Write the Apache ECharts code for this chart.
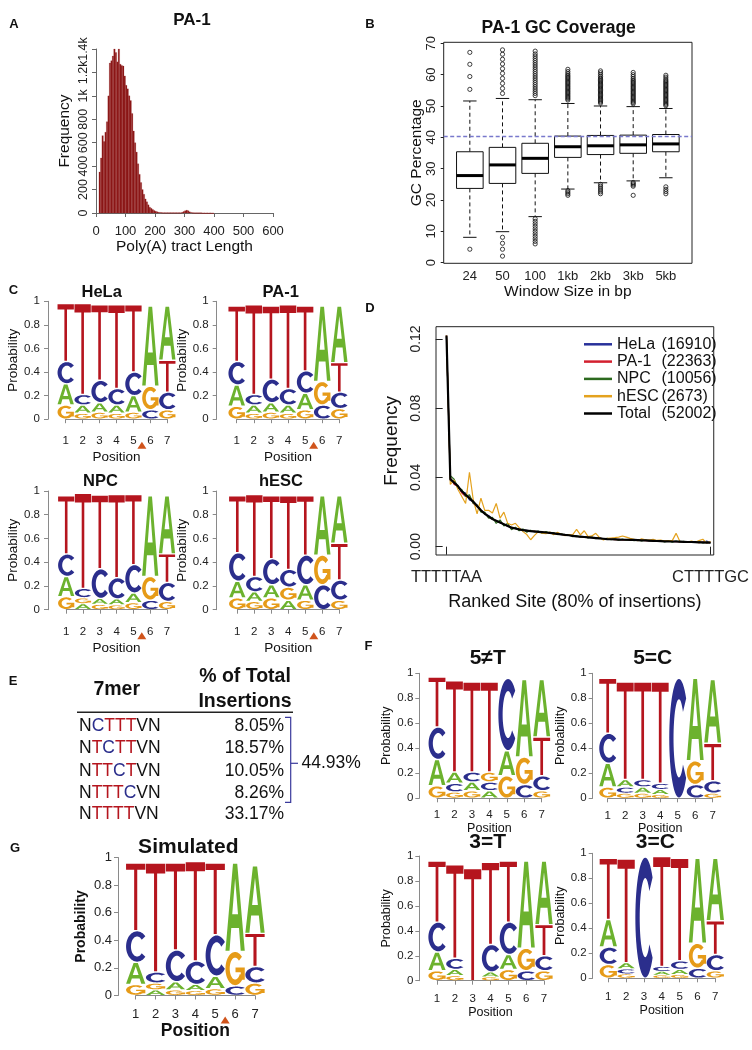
<!DOCTYPE html>
<html><head><meta charset="utf-8">
<script src="https://cdn.jsdelivr.net/npm/echarts@6.0.0/dist/echarts.min.js"></script>
<style>html,body{margin:0;padding:0;background:#fff}#c{width:752px;height:1050px}</style>
</head><body><div id="c"></div>
<script>
// ================= DATA =================
// A: histogram of poly(A) tract length (bins of 5 starting at 10)
const histBinStart = 10, histBinWidth = 5;
const histCounts = [350,470,660,610,690,780,1000,1280,1300,1340,1400,1370,1290,1400,1270,1260,1255,1170,1090,1060,
  1000,960,850,700,600,520,420,330,260,200,160,120,95,70,50,40,30,22,15,10,
  6,5,4,3,3,3,3,3,3,3,3,3,3,3,3,3,6,12,20,24,
  20,10,5,3,2,2,2,2,2,2,1,1,1,1,1,1,1,1];
// B: GC coverage boxplots
const gcWindows = ['24','50','100','1kb','2kb','3kb','5kb'];
const gcLow  = [8.1, 9.9, 14.7, 23.5, 25.5, 26.1, 27.1];
const gcQ1   = [23.7, 25.3, 28.5, 33.6, 34.5, 34.9, 35.4];
const gcMed  = [27.8, 31.2, 33.3, 37.0, 37.3, 37.6, 37.9];
const gcQ3   = [35.4, 36.8, 38.1, 40.4, 40.6, 40.7, 40.9];
const gcHigh = [51.6, 52.4, 52.0, 50.8, 50.0, 49.8, 49.2];
const gcOut24  = [4.3, 55.3, 59.4, 63.3, 67.1];
const gcOut50  = [2.1, 4.3, 6.2, 8.1, 54.0, 55.6, 57.2, 58.8, 60.4, 61.9, 63.4, 64.9, 66.5, 67.9];
const gcOut100 = [6.0, 6.8, 7.6, 8.4, 9.2, 10.0, 10.8, 11.6, 12.4, 13.2, 14.0, 53.3, 54.0, 54.7, 55.4, 56.1, 56.8, 57.5, 58.2, 58.9, 59.6, 60.3, 61.0, 61.7, 62.4, 63.1, 63.8, 64.5, 65.2, 65.9, 66.6, 67.5];
const gcOut1kb = [21.5, 22.0, 22.5, 23.0, 51.9, 52.3, 52.7, 53.1, 53.5, 53.9, 54.3, 54.7, 55.1, 55.5, 55.9, 56.3, 56.7, 57.1, 57.5, 57.9, 58.3, 58.7, 59.1, 59.5, 59.9, 60.4, 61.0, 61.7];
const gcOut2kb = [22.0, 22.6, 23.2, 23.8, 24.4, 25.0, 50.9, 51.3, 51.7, 52.1, 52.5, 52.9, 53.3, 53.7, 54.1, 54.5, 54.9, 55.3, 55.7, 56.1, 56.5, 56.9, 57.3, 57.7, 58.1, 58.5, 58.9, 59.4, 60.0, 60.6, 61.2];
const gcOut3kb = [21.5, 24.4, 24.8, 25.2, 25.6, 50.7, 51.1, 51.5, 51.9, 52.3, 52.7, 53.1, 53.5, 53.9, 54.3, 54.7, 55.1, 55.5, 55.9, 56.3, 56.7, 57.1, 57.5, 57.9, 58.3, 58.8, 59.4, 60.0, 60.7];
const gcOut5kb = [22.0, 22.7, 23.4, 24.2, 50.1, 50.5, 50.9, 51.3, 51.7, 52.1, 52.5, 52.9, 53.3, 53.7, 54.1, 54.5, 54.9, 55.3, 55.7, 56.1, 56.5, 56.9, 57.3, 57.7, 58.1, 58.6, 59.2, 59.8];
const gcGenome = 40.5;
// D: ranked site frequencies
const dNames  = ['HeLa', 'PA-1', 'NPC', 'hESC', 'Total'];
const dCounts = [16910, 22363, 10056, 2673, 52002];
const dFirstSite = 'TTTTTAA', dLastSite = 'CTTTTGC';
const freqHeLa = [0.121,0.038,0.038,0.034,0.032,0.031,0.027,0.026,0.024,0.021,0.019,0.018,0.016,0.0148,0.0138,0.013,0.0118,0.0112,0.0104,0.0098,0.0097,0.0094,0.0089,0.0087,0.0088,0.0083,0.0081,0.0082,0.0076,0.0075,0.007,0.0069,0.0065,0.0064,0.0059,0.0059,0.0055,0.0055,0.0051,0.005,0.0049,0.0045,0.0045,0.0042,0.0043,0.004,0.0041,0.0039,0.004,0.0038,0.0039,0.0036,0.0037,0.0034,0.0035,0.0032,0.0033,0.003,0.0032,0.0029,0.0031,0.0028,0.0029,0.0026,0.0028,0.0025,0.0026,0.0024,0.0032,0.0023];
const freqPA1 = [0.122,0.040,0.036,0.035,0.031,0.029,0.029,0.025,0.023,0.021,0.0195,0.017,0.0162,0.0148,0.0142,0.0128,0.0122,0.0108,0.0106,0.0101,0.0095,0.0092,0.0091,0.0089,0.0085,0.0085,0.0081,0.0079,0.0078,0.0073,0.0072,0.0067,0.0067,0.0062,0.0061,0.0057,0.0057,0.0053,0.0053,0.0049,0.0049,0.0046,0.0043,0.0044,0.0041,0.0042,0.0039,0.0041,0.0038,0.004,0.0037,0.0038,0.0035,0.0036,0.0033,0.0034,0.0031,0.0033,0.003,0.0031,0.0029,0.003,0.0027,0.0028,0.0026,0.0027,0.0024,0.0026,0.0023,0.0025];
const freqNPC = [0.121,0.041,0.039,0.034,0.033,0.029,0.030,0.025,0.024,0.020,0.020,0.0165,0.017,0.0135,0.0155,0.012,0.0135,0.0098,0.0112,0.0092,0.0102,0.0083,0.0095,0.0085,0.009,0.0078,0.0088,0.0077,0.0081,0.007,0.0075,0.0066,0.007,0.0058,0.0064,0.0055,0.0059,0.0051,0.0056,0.0047,0.0052,0.0043,0.0048,0.0041,0.0045,0.0038,0.0044,0.0037,0.0042,0.0035,0.0041,0.0034,0.0039,0.0033,0.0037,0.0031,0.0036,0.0028,0.0034,0.0026,0.0033,0.0027,0.0031,0.0025,0.003,0.0024,0.0029,0.0021,0.0027,0.0022];
const freqHESC = [0.122,0.036,0.0385,0.033,0.029,0.025,0.043,0.027,0.019,0.028,0.021,0.021,0.0195,0.025,0.0165,0.020,0.0135,0.0125,0.0135,0.011,0.0087,0.007,0.004,0.0065,0.0087,0.0078,0.0075,0.0085,0.0069,0.0083,0.0072,0.0064,0.0068,0.007,0.010,0.0068,0.0092,0.0058,0.0062,0.0077,0.0052,0.0039,0.0048,0.005,0.0052,0.0055,0.0062,0.0055,0.0048,0.0042,0.0035,0.0045,0.004,0.0038,0.0042,0.0036,0.0038,0.0033,0.0035,0.0035,0.0077,0.003,0.0028,0.0027,0.0032,0.0026,0.0035,0.0043,0.0021,0.003];
const freqTotal = [0.122,0.039,0.037,0.035,0.032,0.030,0.028,0.026,0.0235,0.021,0.019,0.0175,0.016,0.015,0.014,0.013,0.012,0.011,0.0105,0.010,0.0096,0.0093,0.009,0.0088,0.0086,0.0084,0.0082,0.008,0.0077,0.0074,0.0071,0.0068,0.0066,0.0063,0.006,0.0058,0.0056,0.0054,0.0052,0.005,0.0048,0.0046,0.0044,0.0043,0.0042,0.0041,0.004,0.004,0.0039,0.0039,0.0038,0.0037,0.0036,0.0035,0.0034,0.0033,0.0032,0.0031,0.0031,0.003,0.003,0.0029,0.0028,0.0027,0.0027,0.0026,0.0025,0.0025,0.0024,0.0024];
// E: 7mer table
const kmers   = ['NCTTTVN', 'NTCTTVN', 'NTTCTVN', 'NTTTCVN', 'NTTTTVN'];
const kmerPct = [8.05, 18.57, 10.05, 8.26, 33.17];
// Sequence logos: probability of A, C, G, T at positions 1..7
const logoHeLa = {A:[.18,.07,.08,.07,.14,.68,.46], C:[.19,.09,.19,.14,.20,.08,.15], G:[.12,.05,.06,.05,.06,.20,.08], T:[.49,.77,.64,.71,.57,0,.27]};
const logoPA1  = {A:[.18,.07,.08,.07,.14,.64,.48], C:[.20,.09,.20,.14,.19,.12,.14], G:[.11,.05,.06,.05,.08,.20,.09], T:[.47,.76,.62,.71,.55,0,.25]};
const logoNPC  = {A:[.17,.05,.05,.05,.08,.68,.49], C:[.19,.08,.25,.18,.24,.08,.16], G:[.11,.05,.045,.04,.06,.20,.07], T:[.49,.80,.62,.70,.59,0,.24]};
const logoHESC = {A:[.14,.08,.11,.08,.13,.50,.40], C:[.24,.13,.22,.15,.25,.21,.17], G:[.10,.07,.10,.11,.08,.25,.08], T:[.48,.69,.53,.62,.50,0,.31]};
const logo5notT = {A:[.21,.09,.07,.06,.20,.62,.46], C:[.26,.07,.08,.07,.58,.11,.12], G:[.10,.05,.06,.08,.18,.22,.06], T:[.40,.73,.72,.72,0,0,.31]};
const logo5isC  = {A:[.19,.06,.05,.04,0,.66,.51], C:[.24,.05,.06,.05,.96,.11,.10], G:[.09,.04,.04,.03,0,.19,.04], T:[.44,.78,.78,.81,0,0,.30]};
const logo3isT  = {A:[.15,.05,0,.04,.12,.70,.51], C:[.24,.09,0,.22,.26,.08,.12], G:[.08,.04,0,.03,.09,.18,.08], T:[.49,.75,.90,.66,.49,0,.25]};
const logo3isC  = {A:[.22,.05,0,.03,.04,.68,.50], C:[.14,.04,.97,.04,.07,.08,.13], G:[.11,.035,0,.025,.03,.20,.06], T:[.49,.83,0,.88,.82,0,.27]};
const logoSim   = {A:[.16,.04,.06,.045,.09,.64,.49], C:[.23,.08,.23,.17,.30,.07,.12], G:[.08,.05,.04,.035,.05,.25,.09], T:[.49,.79,.63,.72,.52,0,.24]};
const cutPosition = 5.5;

// ================= STYLE / HELPERS =================
const FONT = "'Liberation Sans', Arial, Helvetica, sans-serif";
const LETTERS = ['A','C','G','T'];
const LETTER_COLOR = ['#6cb22e', '#2b2e8c', '#e69b18', '#b5151e'];
function arcPts(cx, cy, rx, ry, a0, a1, step) {
  const pts = []; const n = Math.ceil(Math.abs(a1 - a0) / step);
  for (let k = 0; k <= n; k++) { const a = (a0 + (a1 - a0) * k / n) * Math.PI / 180; pts.push([cx + rx * Math.cos(a), cy - ry * Math.sin(a)]); }
  return pts;
}
function polyD(pts) { return 'M' + pts.map(p => p[0].toFixed(2) + ' ' + p[1].toFixed(2)).join('L') + 'Z'; }
const GLYPH = [
  'M0 100L39 0H61L100 100H79L70 74H30L21 100Z M35 58H65L50 17Z',
  polyD(arcPts(50, 50, 50, 50, 42, 318, 6).concat(arcPts(50, 50, 28, 33, 318, 42, 6))),
  polyD(arcPts(50, 50, 50, 50, 45, 330, 6).concat(arcPts(50, 50, 28, 33, 330, 45, 6))) + ' M52 47V61H100V47Z M79 47V84H100V47Z',
  'M0 0H100V9H58V100H42V9H0Z'
];
const grids = [], xAxes = [], yAxes = [], series = [], graphics = [];
function txt(x, y, s, size, o) {
  o = o || {};
  const st = {text: s, font: (o.bold ? 'bold ' : '') + size + 'px ' + FONT, fill: o.color || '#111',
    textAlign: o.align || 'center', textVerticalAlign: 'middle', align: o.align || 'center', verticalAlign: 'middle'};
  if (o.rich) st.rich = o.rich;
  graphics.push({type: 'text', x: x, y: y, style: st, z: 10, silent: true});
}
function logoItems(L) {
  const items = [];
  for (let p = 0; p < 7; p++) {
    const arr = [0,1,2,3].map(k => ({k: k, v: L[LETTERS[k]][p]})).filter(o => o.v > 0).sort((a, b) => a.v - b.v);
    let base = 0;
    arr.forEach(o => { items.push([p + 1, base, base + o.v, o.k]); base += o.v; });
  }
  return items;
}
function renderLetter(params, api) {
  const pos = api.value(0), b = api.value(1), t = api.value(2), li = api.value(3);
  const p0 = api.coord([pos - 0.5, t]), p1 = api.coord([pos + 0.5, b]);
  const h = p1[1] - p0[1]; if (h < 0.8) return null;
  const padY = Math.min(0.7, h * 0.1);
  return {type: 'path', shape: {pathData: GLYPH[li], x: p0[0] + 0.3, y: p0[1] + padY, width: p1[0] - p0[0] - 0.6, height: h - 2 * padY, layout: 'cover'},
    style: {fill: LETTER_COLOR[li]}};
}
function addLogo(c) {
  const gi = grids.length;
  grids.push({left: c.x1, top: c.y1, width: c.x7 - c.x1, height: c.y0 - c.y1});
  const nameStyle = {fontSize: c.name, color: '#111', fontFamily: FONT, fontWeight: c.nameBold ? 'bold' : 'normal'};
  xAxes.push({gridIndex: gi, type: 'value', min: 1, max: 7, interval: 1, offset: c.xLine - c.y0,
    axisLine: {show: true, lineStyle: {color: '#8a8a8a', width: 1}},
    axisTick: {show: true, length: 4, lineStyle: {color: '#8a8a8a'}},
    axisLabel: {fontSize: c.tick, color: '#222', margin: c.xLabMargin, fontFamily: FONT, hideOverlap: false},
    splitLine: {show: false}, name: 'Position', nameLocation: 'middle', nameGap: c.xNameGap,
    nameTextStyle: {fontSize: c.xName || c.name, color: '#111', fontFamily: FONT, fontWeight: c.xNameBold ? 'bold' : 'normal'}});
  yAxes.push({gridIndex: gi, type: 'value', min: 0, max: 1, interval: 0.2, offset: c.x1 - c.yLine,
    axisLine: {show: true, lineStyle: {color: '#8a8a8a', width: 1}},
    axisTick: {show: true, length: 4, lineStyle: {color: '#8a8a8a'}},
    axisLabel: {fontSize: c.tick, color: '#222', margin: c.yLabMargin, fontFamily: FONT, showMaxLabel: true, showMinLabel: true, hideOverlap: false,
      formatter: v => String(Math.round(v * 10) / 10)},
    splitLine: {show: false}, name: 'Probability', nameLocation: 'middle', nameRotate: 90, nameGap: c.yNameGap, nameTextStyle: nameStyle});
  series.push({type: 'custom', xAxisIndex: gi, yAxisIndex: gi, data: logoItems(c.data), renderItem: renderLetter, silent: true, z: 3});
  if (c.tri) {
    series.push({type: 'custom', xAxisIndex: gi, yAxisIndex: gi, data: [[cutPosition]], silent: true, z: 4,
      renderItem: (params, api) => {
        const p = api.coord([api.value(0), 0]); const top = p[1] + c.tri;
        return {type: 'polygon', shape: {points: [[p[0], top], [p[0] + 4.5, top + 7], [p[0] - 4.5, top + 7]]}, style: {fill: '#d0541c'}};
      }});
  }
  txt(c.titleX, c.titleY, c.title, c.titleSize, {bold: true});
}

// ================= PANEL A: histogram =================
{
  const gi = grids.length;
  grids.push({left: 96, top: 49, width: 177, height: 164});
  xAxes.push({gridIndex: gi, type: 'value', min: 0, max: 600, interval: 100, offset: 8,
    axisLine: {lineStyle: {color: '#666'}}, axisTick: {length: 4, lineStyle: {color: '#666'}},
    axisLabel: {fontSize: 13, color: '#222', margin: 4, fontFamily: FONT, showMaxLabel: true, hideOverlap: false}, splitLine: {show: false},
    name: 'Poly(A) tract Length', nameLocation: 'middle', nameGap: 18, nameTextStyle: {fontSize: 15.5, color: '#111', fontFamily: FONT}});
  yAxes.push({gridIndex: gi, type: 'value', min: 0, max: 1400, interval: 200,
    axisLine: {show: true, lineStyle: {color: '#666'}}, axisTick: {show: true, length: 4, lineStyle: {color: '#666'}},
    axisLabel: {fontSize: 12.5, color: '#222', margin: 6, rotate: 90, fontFamily: FONT, showMaxLabel: true, showMinLabel: true, hideOverlap: false,
      formatter: v => v === 0 ? '0' : (v >= 1000 ? (v / 1000) + 'k' : String(v))},
    splitLine: {show: false}, name: 'Frequency', nameLocation: 'middle', nameRotate: 90, nameGap: 23,
    nameTextStyle: {fontSize: 15.5, color: '#111', fontFamily: FONT}});
  series.push({type: 'custom', xAxisIndex: gi, yAxisIndex: gi, silent: true,
    data: histCounts.map((v, i) => [histBinStart + i * histBinWidth, histBinStart + (i + 1) * histBinWidth, v]),
    renderItem: (params, api) => {
      const p0 = api.coord([api.value(0), api.value(2)]), p1 = api.coord([api.value(1), 0]);
      return {type: 'rect', shape: {x: p0[0], y: p0[1], width: p1[0] - p0[0], height: Math.max(p1[1] - p0[1], 0.6)},
        style: {fill: '#8b1515', stroke: '#9a3030', lineWidth: 0.2}};
    }});
  txt(192, 20.5, 'PA-1', 17, {bold: true});
  txt(14, 24, 'A', 13, {bold: true});
}

// ================= PANEL B: boxplots =================
{
  const gi = grids.length;
  grids.push({left: 443.7, top: 42.3, width: 248.3, height: 221, show: true, borderColor: '#222', borderWidth: 1});
  xAxes.push({gridIndex: gi, type: 'value', min: 0.2, max: 7.8,
    axisLine: {show: false}, axisTick: {show: false},
    axisLabel: {customValues: [1,2,3,4,5,6,7], fontSize: 13, color: '#222', margin: 6.5, fontFamily: FONT, formatter: v => gcWindows[Math.round(v) - 1]},
    splitLine: {show: false}, name: 'Window Size in bp', nameLocation: 'middle', nameGap: 19,
    nameTextStyle: {fontSize: 15.5, color: '#111', fontFamily: FONT}});
  yAxes.push({gridIndex: gi, type: 'value', min: -0.19, max: 70.32,
    axisLine: {show: false},
    axisTick: {show: true, length: 3, customValues: [0,10,20,30,40,50,60,70], lineStyle: {color: '#222'}},
    axisLabel: {customValues: [0,10,20,30,40,50,60,70], fontSize: 13, color: '#222', margin: 5.5, rotate: 90, fontFamily: FONT},
    splitLine: {show: false}, name: 'GC Percentage', nameLocation: 'middle', nameRotate: 90, nameGap: 15.5,
    nameTextStyle: {fontSize: 15.5, color: '#111', fontFamily: FONT}});
  series.push({type: 'custom', xAxisIndex: gi, yAxisIndex: gi, silent: true, z: 2,
    data: gcWindows.map((w, i) => [i + 1, gcLow[i], gcQ1[i], gcMed[i], gcQ3[i], gcHigh[i]]),
    renderItem: (params, api) => {
      const i = api.value(0);
      const c = v => api.coord([i, v]);
      const X = c(0)[0], half = 13.3, st = 6.7;
      const ylo = c(api.value(1))[1], yq1 = c(api.value(2))[1], ymd = c(api.value(3))[1], yq3 = c(api.value(4))[1], yhi = c(api.value(5))[1];
      const dash = {stroke: '#111', lineWidth: 1, lineDash: [4, 3]}, solid = {stroke: '#111', lineWidth: 1};
      return {type: 'group', children: [
        {type: 'line', shape: {x1: X, y1: yq3, x2: X, y2: yhi}, style: dash},
        {type: 'line', shape: {x1: X, y1: yq1, x2: X, y2: ylo}, style: dash},
        {type: 'line', shape: {x1: X - st, y1: yhi, x2: X + st, y2: yhi}, style: solid},
        {type: 'line', shape: {x1: X - st, y1: ylo, x2: X + st, y2: ylo}, style: solid},
        {type: 'rect', shape: {x: X - half, y: yq3, width: 2 * half, height: yq1 - yq3}, style: {fill: '#fff', stroke: '#111', lineWidth: 1}},
        {type: 'line', shape: {x1: X - half, y1: ymd, x2: X + half, y2: ymd}, style: {stroke: '#000', lineWidth: 3}}
      ]};
    }});
  const outs = [gcOut24, gcOut50, gcOut100, gcOut1kb, gcOut2kb, gcOut3kb, gcOut5kb];
  const outData = [];
  outs.forEach((arr, i) => arr.forEach(v => outData.push([i + 1, v])));
  series.push({type: 'scatter', xAxisIndex: gi, yAxisIndex: gi, silent: true, z: 3, data: outData,
    symbol: 'circle', symbolSize: 4.2, itemStyle: {color: 'rgba(0,0,0,0)', borderColor: '#111', borderWidth: 0.8, opacity: 1},
    markLine: {silent: true, symbol: ['none', 'none'], label: {show: false}, animation: false,
      lineStyle: {type: [4, 2.5], color: '#7878cc', width: 1.3}, data: [{yAxis: gcGenome}]}});
  txt(558.7, 28.5, 'PA-1 GC Coverage', 17.5, {bold: true});
  txt(370, 24, 'B', 13, {bold: true});
}

// ================= PANEL C: logos =================
const cBase = {tick: 11.5, name: 13.5, xLabMargin: 9.5, xNameGap: 25, yLabMargin: 8, yNameGap: 21, titleSize: 16.5, tri: 22.5};
addLogo(Object.assign({}, cBase, {data: logoHeLa, x1: 65.7, x7: 167.3, y1: 301.3, y0: 419.2, yLine: 48, xLine: 425, title: 'HeLa', titleX: 101.7, titleY: 292}));
addLogo(Object.assign({}, cBase, {data: logoPA1, x1: 236.7, x7: 339.3, y1: 301.3, y0: 419.2, yLine: 216.7, xLine: 425, title: 'PA-1', titleX: 280.7, titleY: 292}));
addLogo(Object.assign({}, cBase, {data: logoNPC, x1: 66.2, x7: 167, y1: 491, y0: 609.7, yLine: 48, xLine: 616, title: 'NPC', titleX: 100.5, titleY: 481}));
addLogo(Object.assign({}, cBase, {data: logoHESC, x1: 237.3, x7: 339.3, y1: 491, y0: 609.7, yLine: 216.7, xLine: 616, title: 'hESC', titleX: 281, titleY: 481}));
txt(13.5, 290, 'C', 13, {bold: true});

// ================= PANEL D: ranked sites =================
{
  const gi = grids.length;
  grids.push({left: 436, top: 326.7, width: 283.3, height: 228.3, show: true, borderColor: '#222', borderWidth: 1});
  const N = freqTotal.length;
  xAxes.push({gridIndex: gi, type: 'value', min: 1 - 10.7 / 3.903, max: N + 3.3 / 3.903,
    axisLine: {show: false},
    axisTick: {show: true, length: 8, customValues: [1, N], lineStyle: {color: '#222'}},
    axisLabel: {customValues: [1, N], fontSize: 16.5, color: '#222', margin: 13.5, fontFamily: FONT, formatter: v => v === 1 ? dFirstSite : dLastSite},
    splitLine: {show: false}, name: 'Ranked Site (80% of insertions)', nameLocation: 'middle', nameGap: 38.5,
    nameTextStyle: {fontSize: 18, color: '#111', fontFamily: FONT}});
  yAxes.push({gridIndex: gi, type: 'value', min: -0.0048, max: 0.1271,
    axisLine: {show: false},
    axisTick: {show: true, length: 7, customValues: [0, 0.04, 0.08, 0.12], lineStyle: {color: '#222'}},
    axisLabel: {customValues: [0, 0.04, 0.08, 0.12], fontSize: 14, color: '#222', margin: 12.5, rotate: 90, fontFamily: FONT, formatter: v => v.toFixed(2)},
    splitLine: {show: false}, name: 'Frequency', nameLocation: 'middle', nameRotate: 90, nameGap: 35,
    nameTextStyle: {fontSize: 19, color: '#111', fontFamily: FONT}});
  const dSeries = [freqHeLa, freqPA1, freqNPC, freqHESC, freqTotal];
  const dColors = ['#27309a', '#d3202f', '#2d6a1f', '#e4a21e', '#000000'];
  const dWidths = [1.2, 1.2, 1.2, 1.2, 2.2];
  dSeries.forEach((arr, k) => series.push({type: 'line', name: dNames[k], xAxisIndex: gi, yAxisIndex: gi, silent: true,
    data: arr.map((v, i) => [i + 1, v]), showSymbol: false, symbol: 'none', color: dColors[k],
    lineStyle: {color: dColors[k], width: dWidths[k]}, z: 2 + k}));
  txt(370, 308, 'D', 13, {bold: true});
}

// ================= PANEL F: logos =================
const fBase = {tick: 11.5, name: 12.5, xLabMargin: 4.5, yLabMargin: 6, yNameGap: 18.5, titleSize: 21};
addLogo(Object.assign({}, fBase, {data: logo5notT, x1: 437, x7: 541.7, y1: 673.3, y0: 798.3, yLine: 419.3, xLine: 804.5, xNameGap: 16, title: '5≠T', titleX: 487.7, titleY: 658.3}));
addLogo(Object.assign({}, fBase, {data: logo5isC, x1: 607.7, x7: 712.7, y1: 673.3, y0: 798.3, yLine: 592.7, xLine: 805, xNameGap: 16.5, title: '5=C', titleX: 652.7, titleY: 658.3}));
addLogo(Object.assign({}, fBase, {data: logo3isT, x1: 437, x7: 544, y1: 856, y0: 980.7, yLine: 419.3, xLine: 988.3, xNameGap: 18, title: '3=T', titleX: 487.7, titleY: 842.7}));
addLogo(Object.assign({}, fBase, {data: logo3isC, x1: 608.3, x7: 715.3, y1: 853.3, y0: 978.3, yLine: 592.7, xLine: 986.7, xNameGap: 17, title: '3=C', titleX: 655.3, titleY: 842.7}));
txt(368.5, 646.7, 'F', 13, {bold: true});

// ================= PANEL G: simulated logo =================
addLogo({data: logoSim, x1: 135.7, x7: 255, y1: 857.5, y0: 995.5, yLine: 118, xLine: 1003.3, tick: 13, name: 14, nameBold: true,
  xName: 17.5, xNameBold: true, xLabMargin: 5, xNameGap: 17.5, yLabMargin: 6, yNameGap: 30, titleSize: 21,
  title: 'Simulated', titleX: 188.3, titleY: 847.3, tri: 21});
txt(15, 848.3, 'G', 13, {bold: true});

// ================= PANEL E: table =================
{
  txt(13, 681.7, 'E', 13, {bold: true});
  txt(116.7, 690, '7mer', 19.5, {bold: true});
  txt(245, 676.7, '% of Total', 19.5, {bold: true});
  txt(245, 701.7, 'Insertions', 19.5, {bold: true});
  graphics.push({type: 'line', shape: {x1: 77, y1: 712.3, x2: 293, y2: 712.3}, style: {stroke: '#222', lineWidth: 1.5}, silent: true});
  const rowY = [726, 748.3, 770.7, 792.7, 814];
  const rich = {n: {fill: '#111', color: '#111', font: '17.5px ' + FONT}, c: {fill: '#2b2e8c', color: '#2b2e8c', font: '17.5px ' + FONT}, t: {fill: '#b5151e', color: '#b5151e', font: '17.5px ' + FONT}};
  kmers.forEach((k, i) => {
    const s = k.split('').map(ch => '{' + (ch === 'C' ? 'c' : ch === 'T' ? 't' : 'n') + '|' + ch + '}').join('');
    txt(79, rowY[i], s, 17.5, {align: 'left', rich: rich});
    txt(284, rowY[i], kmerPct[i].toFixed(2) + '%', 17.5, {align: 'right'});
  });
  const bracketSum = kmerPct.slice(0, 4).reduce((a, b) => a + b, 0);
  graphics.push({type: 'polyline', shape: {points: [[285, 717.3], [290.7, 717.3], [290.7, 802.3], [285, 802.3]]}, style: {stroke: '#3a3a9c', lineWidth: 1.2, fill: null}, silent: true});
  graphics.push({type: 'line', shape: {x1: 290.7, y1: 763.3, x2: 298, y2: 763.3}, style: {stroke: '#3a3a9c', lineWidth: 1.2}, silent: true});
  txt(301.5, 763.3, bracketSum.toFixed(2) + '%', 17.5, {align: 'left'});
}

// ================= CHART =================
const chart = echarts.init(document.getElementById('c'), null, {renderer: 'canvas'});
chart.setOption({
  animation: false,
  backgroundColor: '#fff',
  textStyle: {fontFamily: FONT},
  grid: grids, xAxis: xAxes, yAxis: yAxes, series: series,
  legend: {data: dNames, left: 584, top: 335.8, orient: 'vertical', padding: 0, itemWidth: 28, itemHeight: 2.5, icon: 'rect',
    itemGap: 0.3, selectedMode: false,
    formatter: name => '{a|' + name + '}{b|(' + dCounts[dNames.indexOf(name)] + ')}',
    textStyle: {fontSize: 16, lineHeight: 17, color: '#111', fontFamily: FONT,
      rich: {a: {width: 44.5, fontSize: 16, lineHeight: 17, color: '#111', fontFamily: FONT}, b: {fontSize: 16, lineHeight: 17, color: '#111', fontFamily: FONT}}}},
  graphic: {elements: graphics}
});
</script></body></html>
